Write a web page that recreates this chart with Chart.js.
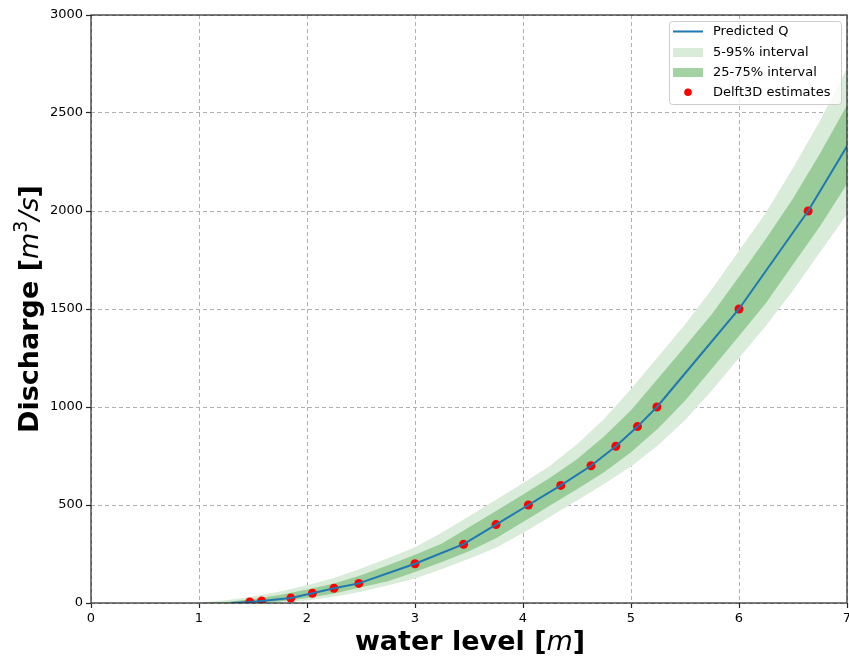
<!DOCTYPE html>
<html>
<head>
<meta charset="utf-8">
<script src="https://cdn.jsdelivr.net/npm/chart.js@4"></script>
<style>
  body { margin: 0; background: #fff; }
  #wrap { width: 849px; height: 663px; }
</style>
</head>
<body>
<div id="wrap"><canvas id="rating" width="849" height="663"></canvas></div>
<script>
// Delft3D runs (water level [m], discharge [m3/s])
const delftLevel = [1.47, 1.58, 1.85, 2.05, 2.25, 2.48, 3.0, 3.45, 3.75, 4.05, 4.35, 4.63, 4.86, 5.06, 5.24, 6.0, 6.64];
const delftQ = [5, 10, 25, 50, 75, 100, 200, 300, 400, 500, 600, 700, 800, 900, 1000, 1500, 2000];

// predicted rating curve
const predLevel = [1.3, 1.47, 1.58, 1.85, 2.05, 2.25, 2.48, 3.0, 3.45, 3.75, 4.05, 4.35, 4.63, 4.86, 5.06, 5.24, 6.0, 6.64, 7.0];
const predQ = [0, 5, 10, 25, 50, 75, 100, 200, 300, 400, 500, 600, 700, 800, 900, 1000, 1500, 2000, 2330];

const bandLevel = [1.0, 1.25, 1.5, 1.75, 2.0, 2.25, 2.5, 2.75, 3.0, 3.25, 3.5, 3.75, 4.0, 4.25, 4.5, 4.75, 5.0, 5.25, 5.5, 5.75, 6.0, 6.25, 6.5, 6.75, 7.0];
const q95 = [2, 14, 33, 59, 91, 127, 176, 228, 284, 360, 443, 527, 611, 700, 810, 939, 1092, 1257, 1421, 1602, 1797, 1992, 2220, 2460, 2730];
const q75 = [0, 5, 20, 41, 69, 99, 142, 192, 246, 303, 387, 470, 553, 639, 733, 850, 983, 1145, 1309, 1474, 1664, 1859, 2064, 2293, 2540];
const q25 = [0, 0, 0, 8, 26, 49, 80, 111, 158, 209, 264, 330, 413, 497, 580, 667, 769, 890, 1032, 1197, 1362, 1531, 1727, 1922, 2138];
const q5 = [0, 0, 0, 2, 13, 32, 58, 90, 125, 174, 226, 282, 357, 440, 523, 607, 696, 805, 933, 1085, 1250, 1414, 1594, 1789, 1984];

const xTicks = [0, 1, 2, 3, 4, 5, 6, 7];
const yTicks = [0, 500, 1000, 1500, 2000, 2500, 3000];

const lightGreen = '#d9ecd9';
const darkGreen = '#99cc99';
const lineBlue = '#1f77b4';

function pts(xs, ys) {
  return xs.map((x, i) => ({x: x, y: ys[i]}));
}

// draws pieces of text with their own fonts, centred on (cx, cy)
function drawMixed(ctx, parts, cx, cy, angle) {
  ctx.save();
  ctx.translate(cx, cy);
  ctx.rotate(angle);
  ctx.textBaseline = 'alphabetic';
  ctx.textAlign = 'left';
  let total = 0;
  for (const p of parts) {
    ctx.font = p.font;
    p.w = ctx.measureText(p.t).width;
    total += p.w;
  }
  let x = -total / 2;
  for (const p of parts) {
    ctx.font = p.font;
    ctx.fillText(p.t, x, p.dy || 0);
    x += p.w;
  }
  ctx.restore();
}

const extras = {
  id: 'extras',
  afterDraw(chart) {
    const ctx = chart.ctx;
    const a = chart.chartArea;
    ctx.save();
    // frame on all four sides
    ctx.strokeStyle = '#262626';
    ctx.lineWidth = 1.2;
    ctx.strokeRect(a.left, a.top, a.right - a.left, a.bottom - a.top);

    ctx.fillStyle = '#000';
    const bold = "bold 27px 'DejaVu Sans'";
    const ital = "italic 27px 'DejaVu Sans'";
    drawMixed(ctx, [
      {t: 'water level [', font: bold},
      {t: 'm', font: ital},
      {t: ']', font: bold}
    ], 470, 650, 0);
    drawMixed(ctx, [
      {t: 'Discharge [', font: bold},
      {t: 'm', font: ital},
      {t: '3', font: "19px 'DejaVu Sans'", dy: -11},
      {t: '/s', font: ital},
      {t: ']', font: bold}
    ], 38, 309, -Math.PI / 2);

    // legend box
    ctx.beginPath();
    ctx.roundRect(669.5, 21.5, 172, 83, 3);
    ctx.fillStyle = 'rgba(255,255,255,0.8)';
    ctx.fill();
    ctx.strokeStyle = '#cccccc';
    ctx.lineWidth = 1;
    ctx.stroke();

    ctx.strokeStyle = lineBlue;
    ctx.lineWidth = 2;
    ctx.beginPath();
    ctx.moveTo(673, 31.5);
    ctx.lineTo(703, 31.5);
    ctx.stroke();
    ctx.fillStyle = lightGreen;
    ctx.fillRect(673, 48, 30, 9);
    ctx.fillStyle = '#a3d3a3';
    ctx.fillRect(673, 68, 30, 9);
    ctx.fillStyle = 'red';
    ctx.beginPath();
    ctx.arc(688, 92.3, 3.8, 0, Math.PI * 2);
    ctx.fill();

    ctx.fillStyle = '#000';
    ctx.font = "13px 'DejaVu Sans'";
    ctx.textBaseline = 'middle';
    ctx.textAlign = 'left';
    const names = ['Predicted Q', '5-95% interval', '25-75% interval', 'Delft3D estimates'];
    const rows = [31.7, 52.3, 72.3, 92.3];
    names.forEach((n, i) => ctx.fillText(n, 713, rows[i]));
    ctx.restore();
  }
};

const gridOpts = {
  color: '#b0b0b0',
  lineWidth: 1,
  tickColor: '#262626',
  tickLength: 5,
  tickWidth: 1.2,
  tickBorderDash: []
};

const config = {
  type: 'line',
  data: {
    datasets: [
      {
        label: 'Predicted Q',
        data: pts(predLevel, predQ),
        borderColor: lineBlue,
        borderWidth: 2,
        pointRadius: 0,
        fill: false,
        tension: 0,
        order: 1
      },
      {
        label: 'Delft3D estimates',
        data: pts(delftLevel, delftQ),
        showLine: false,
        pointRadius: 4.5,
        pointBackgroundColor: 'red',
        pointBorderWidth: 0,
        order: 2
      },
      {
        label: '5-95% interval',
        data: pts(bandLevel, q95),
        borderWidth: 0,
        pointRadius: 0,
        backgroundColor: lightGreen,
        fill: 3,
        order: 4
      },
      {
        label: 'q5',
        data: pts(bandLevel, q5),
        borderWidth: 0,
        pointRadius: 0,
        fill: false,
        order: 4
      },
      {
        label: '25-75% interval',
        data: pts(bandLevel, q75),
        borderWidth: 0,
        pointRadius: 0,
        backgroundColor: darkGreen,
        fill: 5,
        order: 3
      },
      {
        label: 'q25',
        data: pts(bandLevel, q25),
        borderWidth: 0,
        pointRadius: 0,
        fill: false,
        order: 3
      }
    ]
  },
  options: {
    responsive: false,
    animation: false,
    layout: {
      autoPadding: false,
      padding: {left: 0, right: 2, top: 15, bottom: 0}
    },
    plugins: {
      legend: {display: false},
      tooltip: {enabled: false}
    },
    scales: {
      x: {
        type: 'linear',
        min: 0,
        max: 7,
        afterFit(scale) {
          scale.height = 60;
          scale.paddingLeft = 0;
          scale.paddingRight = 0;
        },
        afterBuildTicks(scale) { scale.ticks = xTicks.map(v => ({value: v})); },
        grid: gridOpts,
        border: {display: false, dash: [4, 3]},
        ticks: {
          color: '#000',
          padding: 3,
          maxRotation: 0,
          callback: v => String(v),
          font: {family: 'DejaVu Sans', size: 13}
        }
      },
      y: {
        type: 'linear',
        min: 0,
        max: 3000,
        afterFit(scale) {
          scale.width = 91;
          scale.paddingTop = 0;
          scale.paddingBottom = 0;
        },
        afterBuildTicks(scale) { scale.ticks = yTicks.map(v => ({value: v})); },
        grid: gridOpts,
        border: {display: false, dash: [4, 3]},
        ticks: {
          color: '#000',
          padding: 3,
          callback: v => String(v),
          font: {family: 'DejaVu Sans', size: 13}
        }
      }
    }
  },
  plugins: [extras]
};

new Chart(document.getElementById('rating'), config);
</script>
</body>
</html>
